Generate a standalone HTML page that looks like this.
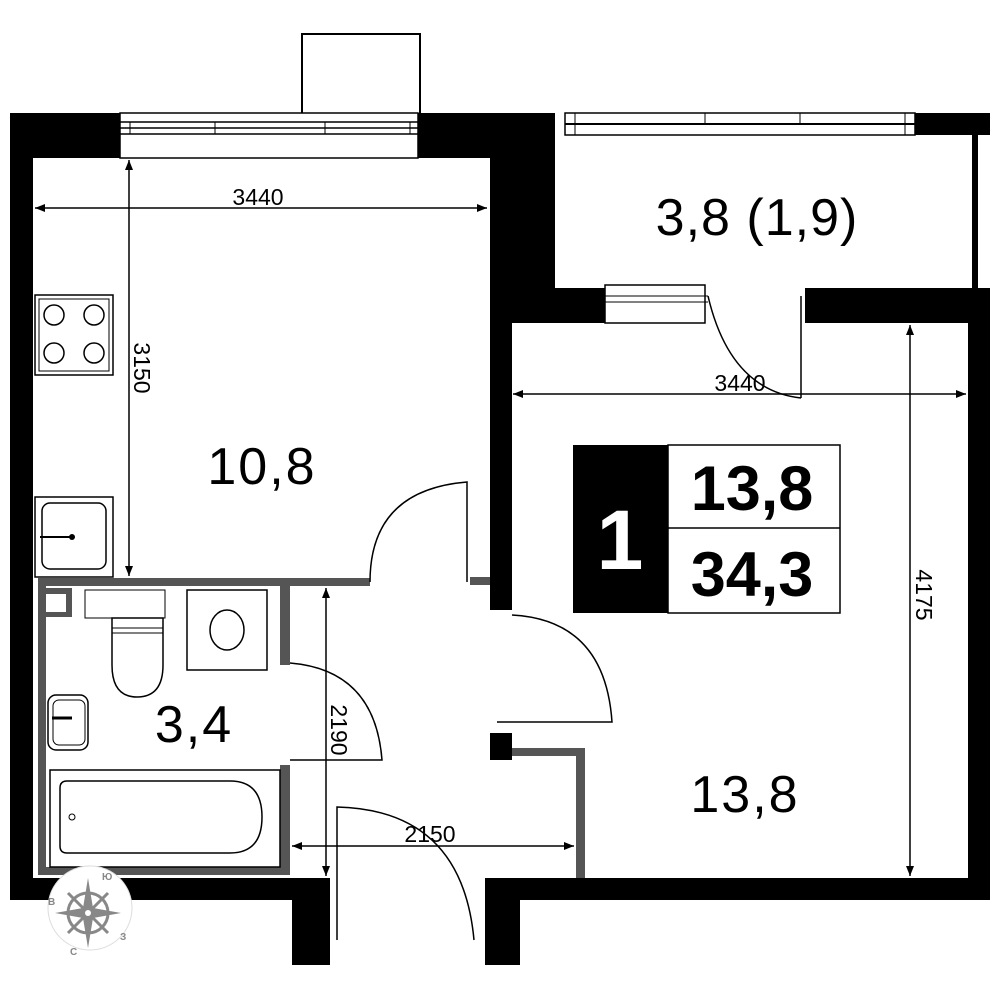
<!DOCTYPE html>
<html><head><meta charset="utf-8"><style>
html,body{margin:0;padding:0;background:#fff;}
svg{display:block;}
text{font-family:"Liberation Sans",sans-serif;}
</style></head><body>
<svg width="1000" height="1000" viewBox="0 0 1000 1000" xmlns="http://www.w3.org/2000/svg">
<defs>
<marker id="ar" viewBox="0 0 10 10" refX="10" refY="5" markerWidth="10" markerHeight="10" markerUnits="userSpaceOnUse" orient="auto-start-reverse"><path d="M0,1 L10,5 L0,9z" fill="#000"/></marker>
</defs>
<rect x="302" y="34" width="118" height="80" fill="#fff" stroke="#000" stroke-width="2"/>
<rect x="10" y="113" width="110" height="45" fill="#000"/>
<rect x="418" y="113" width="137" height="45" fill="#000"/>
<rect x="120" y="113" width="298" height="45" fill="#fff" stroke="#000" stroke-width="1.5"/>
<line x1="120" y1="122" x2="418" y2="122" stroke="#000" stroke-width="1.5"/>
<line x1="120" y1="128" x2="418" y2="128" stroke="#000" stroke-width="1.5"/>
<line x1="130" y1="122" x2="130" y2="134" stroke="#000"/><line x1="215" y1="122" x2="215" y2="134" stroke="#000"/><line x1="325" y1="122" x2="325" y2="134" stroke="#000"/><line x1="410" y1="122" x2="410" y2="134" stroke="#000"/>
<line x1="120" y1="134" x2="418" y2="134" stroke="#000" stroke-width="1.5"/>
<rect x="10" y="113" width="23" height="787" fill="#000"/>
<rect x="490" y="113" width="22" height="497" fill="#000"/>
<rect x="512" y="113" width="43" height="210" fill="#000"/>
<rect x="565" y="113" width="350" height="22" fill="#fff" stroke="#000" stroke-width="1.5"/>
<line x1="565" y1="124" x2="915" y2="124" stroke="#000" stroke-width="2"/>
<line x1="575" y1="113" x2="575" y2="135" stroke="#000"/><line x1="705" y1="113" x2="705" y2="124" stroke="#000"/><line x1="800" y1="113" x2="800" y2="124" stroke="#000"/><line x1="905" y1="113" x2="905" y2="135" stroke="#000"/>
<rect x="915" y="113" width="75" height="22" fill="#000"/>
<rect x="972" y="135" width="6" height="155" fill="#000"/>
<rect x="512" y="288" width="93" height="35" fill="#000"/>
<rect x="605" y="285" width="100" height="38" fill="#fff" stroke="#000" stroke-width="1.5"/>
<line x1="605" y1="296" x2="708" y2="296" stroke="#000"/><line x1="605" y1="302" x2="708" y2="302" stroke="#000"/>
<rect x="805" y="288" width="185" height="35" fill="#000"/>
<rect x="968" y="288" width="22" height="612" fill="#000"/>
<line x1="801" y1="296" x2="801" y2="398" stroke="#000" stroke-width="1.5"/>
<path d="M708,296 Q730,390 801,398" fill="none" stroke="#000" stroke-width="1.5"/>
<rect x="10" y="878" width="320" height="22" fill="#000"/>
<rect x="292" y="878" width="38" height="87" fill="#000"/>
<rect x="485" y="878" width="505" height="22" fill="#000"/>
<rect x="485" y="878" width="35" height="87" fill="#000"/>
<g fill="#555">
<rect x="38" y="578" width="332" height="8"/>
<rect x="38" y="578" width="8" height="297"/>
<rect x="38" y="867" width="252" height="8"/>
<rect x="280" y="585" width="10" height="80"/>
<rect x="280" y="765" width="10" height="110"/>
<rect x="46" y="588" width="24" height="6"/><rect x="66" y="588" width="6" height="28"/><rect x="46" y="612" width="26" height="5"/>
<rect x="470" y="577" width="20" height="8"/>
<rect x="500" y="748" width="85" height="8"/>
<rect x="576" y="748" width="9" height="130"/>
</g>
<rect x="490" y="733" width="22" height="27" fill="#000"/>
<path d="M370,582 Q370,490 467,482 L467,582" fill="none" stroke="#000" stroke-width="1.5"/>
<path d="M512,615 Q605,620 612,722 L497,722" fill="none" stroke="#000" stroke-width="1.5"/>
<path d="M290,663 Q375,670 382,760 L290,760" fill="none" stroke="#000" stroke-width="1.5"/>
<path d="M337,940 L337,807 Q462,810 474,940" fill="none" stroke="#000" stroke-width="1.5"/>
<rect x="35" y="295" width="78" height="80" fill="#fff" stroke="#000" stroke-width="1.5"/>
<rect x="39" y="299" width="70" height="72" fill="none" stroke="#000"/>
<circle cx="54" cy="315" r="10" fill="none" stroke="#000" stroke-width="1.5"/><circle cx="94" cy="315" r="10" fill="none" stroke="#000" stroke-width="1.5"/>
<circle cx="54" cy="353" r="10" fill="none" stroke="#000" stroke-width="1.5"/><circle cx="94" cy="353" r="10" fill="none" stroke="#000" stroke-width="1.5"/>
<rect x="35" y="497" width="78" height="80" fill="#fff" stroke="#000" stroke-width="1.5"/>
<rect x="42" y="503" width="64" height="66" rx="8" fill="none" stroke="#000" stroke-width="1.5"/>
<line x1="40" y1="537" x2="72" y2="537" stroke="#000" stroke-width="2"/><circle cx="72" cy="537" r="3" fill="#000"/>
<rect x="187" y="590" width="80" height="80" fill="#fff" stroke="#000" stroke-width="1.5"/>
<ellipse cx="227" cy="630" rx="17" ry="20" fill="none" stroke="#000" stroke-width="1.5"/>
<path d="M112,618 L163,618 L163,665 Q163,697 137,697 Q112,697 112,665 Z" fill="#fff" stroke="#000" stroke-width="1.5"/>
<line x1="112" y1="628" x2="163" y2="628" stroke="#000"/><line x1="112" y1="633" x2="163" y2="633" stroke="#000"/>
<rect x="85" y="590" width="80" height="28" fill="none" stroke="#000" stroke-width="1"/>
<rect x="48" y="695" width="40" height="55" rx="8" fill="#fff" stroke="#000" stroke-width="1.5"/>
<rect x="53" y="700" width="32" height="45" rx="6" fill="none" stroke="#000"/>
<line x1="52" y1="718" x2="72" y2="718" stroke="#000" stroke-width="3"/>
<rect x="50" y="770" width="230" height="97" fill="#fff" stroke="#000" stroke-width="1.5"/>
<path d="M67,781 L230,781 Q262,781 262,817 Q262,853 230,853 L67,853 Q60,853 60,846 L60,788 Q60,781 67,781 Z" fill="none" stroke="#000" stroke-width="1.5"/>
<circle cx="72" cy="817" r="3" fill="none" stroke="#000"/>
<g stroke="#000" stroke-width="1.5" fill="none">
<line x1="35" y1="208" x2="487" y2="208" marker-start="url(#ar)" marker-end="url(#ar)"/>
<line x1="129" y1="160" x2="129" y2="576" marker-start="url(#ar)" marker-end="url(#ar)"/>
<line x1="513" y1="394" x2="966" y2="394" marker-start="url(#ar)" marker-end="url(#ar)"/>
<line x1="910" y1="325" x2="910" y2="876" marker-start="url(#ar)" marker-end="url(#ar)"/>
<line x1="326" y1="588" x2="326" y2="876" marker-start="url(#ar)" marker-end="url(#ar)"/>
<line x1="292" y1="846" x2="574" y2="846" marker-start="url(#ar)" marker-end="url(#ar)"/>
</g>
<g font-size="23" fill="#000">
<text x="258" y="205" text-anchor="middle">3440</text>
<text x="740" y="391" text-anchor="middle">3440</text>
<text x="430" y="842" text-anchor="middle">2150</text>
<text transform="translate(134,368) rotate(90)" text-anchor="middle">3150</text>
<text transform="translate(916,595) rotate(90)" text-anchor="middle">4175</text>
<text transform="translate(331,730) rotate(90)" text-anchor="middle">2190</text>
</g>
<g font-size="52" fill="#000" text-anchor="middle">
<text x="262" y="484" letter-spacing="2">10,8</text>
<text x="757" y="235" letter-spacing="1">3,8 (1,9)</text>
<text x="745" y="812" letter-spacing="2">13,8</text>
<text x="194" y="742" letter-spacing="2">3,4</text>
</g>
<rect x="573" y="445" width="95" height="168" fill="#000"/>
<rect x="668" y="445" width="172" height="168" fill="#fff" stroke="#000" stroke-width="1.5"/>
<line x1="668" y1="528" x2="840" y2="528" stroke="#000" stroke-width="1.5"/>
<text x="620" y="569" font-size="84" font-weight="bold" fill="#fff" text-anchor="middle">1</text>
<text x="752" y="510" font-size="63" font-weight="bold" fill="#000" text-anchor="middle">13,8</text>
<text x="752" y="596" font-size="63" font-weight="bold" fill="#000" text-anchor="middle">34,3</text>
<circle cx="90" cy="908" r="42" fill="#fff" stroke="#ddd"/>
<circle cx="88" cy="913" r="20" fill="none" stroke="#888" stroke-width="3"/>
<path d="M88,878 L93,908 L121,913 L93,918 L88,948 L83,918 L55,913 L83,908Z" fill="#888"/>
<path d="M68,893 L108,933 M108,893 L68,933" stroke="#888" stroke-width="3"/>
<circle cx="88" cy="913" r="3" fill="#fff"/>
<g font-size="10" font-weight="bold" fill="#888"><text x="102" y="880">Ю</text><text x="48" y="905">В</text><text x="120" y="940">З</text><text x="70" y="955">С</text></g>
</svg>
</body></html>
